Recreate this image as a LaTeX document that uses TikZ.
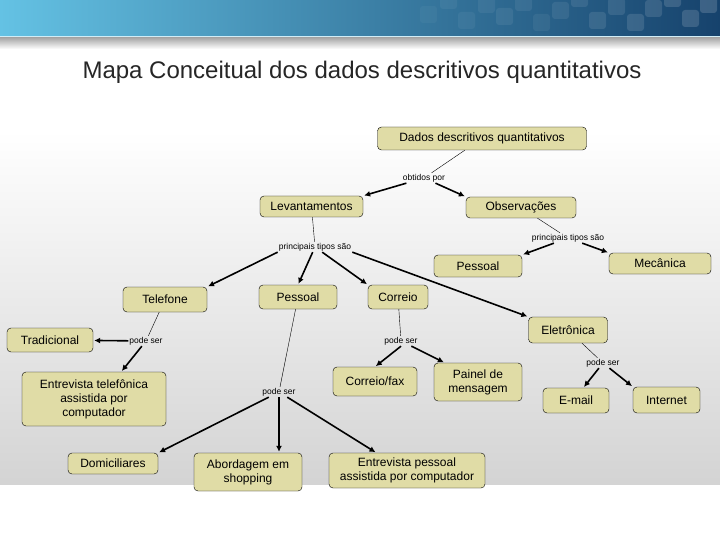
\documentclass[tikz,border=0pt]{standalone}
\usepackage{fontspec}
\setmainfont{Liberation Sans}
\usetikzlibrary{arrows.meta}

\definecolor{conceptfill}{RGB}{224,220,166}
\definecolor{bannerlight}{RGB}{100,194,228}
\definecolor{bannerdark}{RGB}{22,66,108}

\tikzset{
  concept/.style={draw=black, fill=conceptfill, rounded corners=4pt,
    font=\fontsize{12}{14}\selectfont, align=center, inner sep=0pt},
  linkword/.style={font=\fontsize{8.5}{10}\selectfont, inner sep=1pt},
  link/.style={thin},
  arr/.style={line width=1.6pt, -{Latex[length=6pt,width=6pt]}, shorten >=1pt}
}

\begin{document}
\begin{tikzpicture}[x=1pt,y=-1pt]
  \useasboundingbox (0,0) rectangle (720,540);

  % Background and banner
  \fill[white] (0,0) rectangle (720,540);
  \shade[top color=white, bottom color=black!17] (0,130) rectangle (720,484);
  \shade[left color=bannerlight, right color=bannerdark] (0,0) rectangle (720,36);
  \foreach \bx/\by/\op in {420/6/0.04, 440/-8/0.05, 458/12/0.05, 478/-4/0.06, 496/8/0.07,
      515/-6/0.07, 533/14/0.06, 552/2/0.08, 571/-10/0.09, 589/12/0.1, 608/-2/0.1,
      627/14/0.12, 645/0/0.12, 664/-10/0.14, 682/10/0.15, 700/-4/0.16}
    \fill[white, opacity=\op, rounded corners=3pt] (\bx,\by) rectangle +(17,17);
  \fill[white!70!bannerlight] (0,36) rectangle (720,37.5);
  \shade[top color=black!35, bottom color=white] (0,37.5) rectangle (720,49);

  % Title
  \node[font=\fontsize{24}{28}\selectfont, text=black!85] (title) at (362,72)
    {Mapa Conceitual dos dados descritivos quantitativos};

  % Concepts
  \node[concept, minimum width=209, minimum height=23] (dados) at (482,138.5) {Dados descritivos quantitativos};
  \node[concept, minimum width=103, minimum height=21] (levant) at (311.5,206.5) {Levantamentos};
  \node[concept, minimum width=110, minimum height=21] (observ) at (521,207.5) {Observações};
  \node[concept, minimum width=88, minimum height=22] (pessoalR) at (478,266) {Pessoal};
  \node[concept, minimum width=102, minimum height=21] (mecan) at (660,263.5) {Mecânica};
  \node[concept, minimum width=84, minimum height=25] (telef) at (165,299.5) {Telefone};
  \node[concept, minimum width=78, minimum height=24] (pessoalL) at (298,297) {Pessoal};
  \node[concept, minimum width=60, minimum height=24] (correio) at (398,297) {Correio};
  \node[concept, minimum width=79, minimum height=26] (eletr) at (568,330) {Eletrônica};
  \node[concept, minimum width=86, minimum height=24] (tradic) at (50,340) {Tradicional};
  \node[concept, minimum width=144, minimum height=54] (entrevTel) at (94,399)
    {Entrevista telefônica\\assistida por\\computador};
  \node[concept, minimum width=84, minimum height=29] (fax) at (375,381.5) {Correio/fax};
  \node[concept, minimum width=88, minimum height=38] (painel) at (478,382) {Painel de\\mensagem};
  \node[concept, minimum width=66, minimum height=25] (email) at (576,400.5) {E-mail};
  \node[concept, minimum width=67, minimum height=26] (inter) at (666.5,400) {Internet};
  \node[concept, minimum width=90, minimum height=21] (domic) at (113,463.5) {Domiciliares};
  \node[concept, minimum width=108, minimum height=38] (abord) at (248,472) {Abordagem em\\shopping};
  \node[concept, minimum width=156, minimum height=35] (entrevPes) at (407,470.5)
    {Entrevista pessoal\\assistida por computador};

  % Linking words
  \node[linkword] (obtidos) at (424,178) {obtidos por};
  \node[linkword] (princL) at (315,247) {principais tipos são};
  \node[linkword] (princR) at (568,238) {principais tipos são};
  \node[linkword] (podeA) at (146,341) {pode ser};
  \node[linkword] (podeB) at (279,392) {pode ser};
  \node[linkword] (podeC) at (401,341) {pode ser};
  \node[linkword] (podeD) at (603,363) {pode ser};

  % Lines into the linking words
  \draw[link] (dados) -- (obtidos);
  \draw[link] (levant) -- (princL);
  \draw[link] (observ) -- (princR);
  \draw[link] (telef) -- (podeA);
  \draw[link] (pessoalL) -- (podeB);
  \draw[link] (correio) -- (podeC);
  \draw[link] (eletr) -- (podeD);

  % Arrows out of the linking words
  \draw[arr] (obtidos) -- (levant.north east);
  \draw[arr] (obtidos) -- (observ.north west);
  \draw[arr] (princL.south west) -- (telef.north east);
  \draw[arr] (princL) -- (pessoalL.north);
  \draw[arr] (princL) -- (correio.north west);
  \draw[arr] (princL.south east) -- (eletr.north west);
  \draw[arr] (princR) -- (pessoalR.north east);
  \draw[arr] (princR) -- (mecan.north west);
  \draw[arr] (podeA) -- (tradic);
  \draw[arr] (podeA) -- (entrevTel.45);
  \draw[arr] (podeB) -- (domic.north east);
  \draw[arr] (podeB) -- (podeB |- abord.north);
  \draw[arr] (podeB) -- (entrevPes.150);
  \draw[arr] (podeC.south) -- (fax.north);
  \draw[arr] (podeC) -- (painel.150);
  \draw[arr] (podeD) -- (email.60);
  \draw[arr] (podeD) -- (inter.north west);
\end{tikzpicture}
\end{document}
